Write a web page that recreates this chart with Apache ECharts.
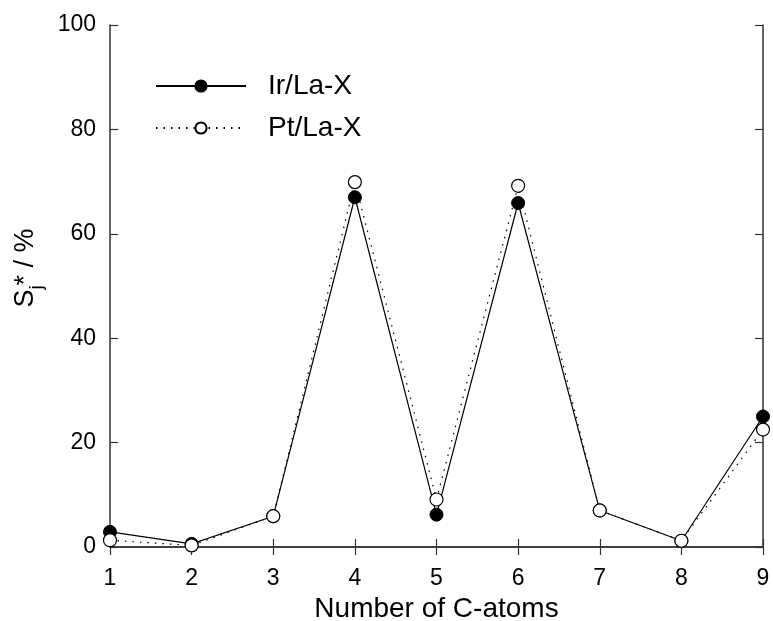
<!DOCTYPE html>
<html>
<head>
<meta charset="utf-8">
<script src="https://cdn.jsdelivr.net/npm/echarts@6/dist/echarts.min.js"></script>
<style>html,body{margin:0;padding:0;background:#fff;}#c{width:773px;height:621px;}</style>
</head>
<body>
<div id="c"></div>
<script>
var carbonAtoms = [1, 2, 3, 4, 5, 6, 7, 8, 9];
var irLaX = [2.9, 0.6, 5.9, 67.0, 6.2, 65.9, 7.0, 1.2, 25.0];
var ptLaX = [1.3, 0.3, 5.9, 69.9, 9.1, 69.2, 7.0, 1.2, 22.5];
var yTicks = [0, 20, 40, 60, 80, 100];

function pairs(xs, ys) { return xs.map(function (x, i) { return [x, ys[i]]; }); }

var font = 'Liberation Sans, Arial, sans-serif';
var axisColor = '#333';
var chart = echarts.init(document.getElementById('c'), null, { renderer: 'canvas' });
chart.setOption({
  animation: false,
  backgroundColor: '#fff',
  grid: { left: 110, right: 10, top: 25, bottom: 74, containLabel: false, outerBoundsMode: 'none' },
  legend: {
    left: 150, top: 67, orient: 'vertical', itemWidth: 90, itemHeight: 14, itemGap: 14,
    textStyle: { fontFamily: font, fontSize: 28, color: '#000', padding: [0, 0, 0, 17] },
    data: ['Ir/La-X', 'Pt/La-X']
  },
  xAxis: [{
    type: 'value', min: 1, max: 9, interval: 1, position: 'bottom',
    name: 'Number of C-atoms', nameLocation: 'middle', nameGap: 48,
    nameTextStyle: { fontFamily: font, fontSize: 28, color: '#000' },
    axisLine: { lineStyle: { color: axisColor, width: 1.5 } },
    axisTick: { inside: true, length: 8, lineStyle: { color: axisColor, width: 1.2 } },
    axisLabel: { fontFamily: font, fontSize: 23, color: '#000', margin: 20 },
    splitLine: { show: false }
  }, {
    type: 'value', min: 1, max: 9, interval: 1, position: 'top',
    axisLine: { lineStyle: { color: axisColor, width: 1.5 } },
    axisTick: { inside: true, length: 8, lineStyle: { color: axisColor, width: 1.2 } },
    axisLabel: { show: false }, splitLine: { show: false }
  }],
  yAxis: [{
    type: 'value', min: 0, max: 100, interval: 20, position: 'left',
    name: '{s|S}{sub|j}{s|* / %}', nameLocation: 'middle', nameGap: 58, nameRotate: 90,
    nameTextStyle: {
      padding: [0, 0, 0, 36],
      rich: {
        s: { fontFamily: font, fontSize: 27, color: '#000' },
        sub: { fontFamily: font, fontSize: 19, color: '#000', verticalAlign: 'bottom', padding: [0, 0, -8, 0] }
      }
    },
    axisLine: { lineStyle: { color: axisColor, width: 1.5 } },
    axisTick: { inside: true, length: 8, lineStyle: { color: axisColor, width: 1.2 } },
    axisLabel: { fontFamily: font, fontSize: 23, color: '#000', margin: 14,
      formatter: function (v) { return yTicks.indexOf(v) >= 0 ? String(v) : ''; } },
    splitLine: { show: false }
  }, {
    type: 'value', min: 0, max: 100, interval: 20, position: 'right',
    axisLine: { lineStyle: { color: axisColor, width: 1.5 } },
    axisTick: { inside: true, length: 8, lineStyle: { color: axisColor, width: 1.2 } },
    axisLabel: { show: false }, splitLine: { show: false }
  }],
  series: [{
    name: 'Pt/La-X', type: 'line', data: pairs(carbonAtoms, ptLaX),
    symbol: 'circle', symbolSize: 13, z: 2,
    lineStyle: { color: '#000', width: 1.2, type: [1.5, 6] },
    itemStyle: { color: '#fff', borderColor: '#000', borderWidth: 1.2 }
  }, {
    name: 'Ir/La-X', type: 'line', data: pairs(carbonAtoms, irLaX),
    symbol: 'circle', symbolSize: 13, z: 1,
    lineStyle: { color: '#000', width: 1.2 },
    itemStyle: { color: '#000', borderColor: '#000', borderWidth: 1 }
  }]
});
</script>
</body>
</html>
